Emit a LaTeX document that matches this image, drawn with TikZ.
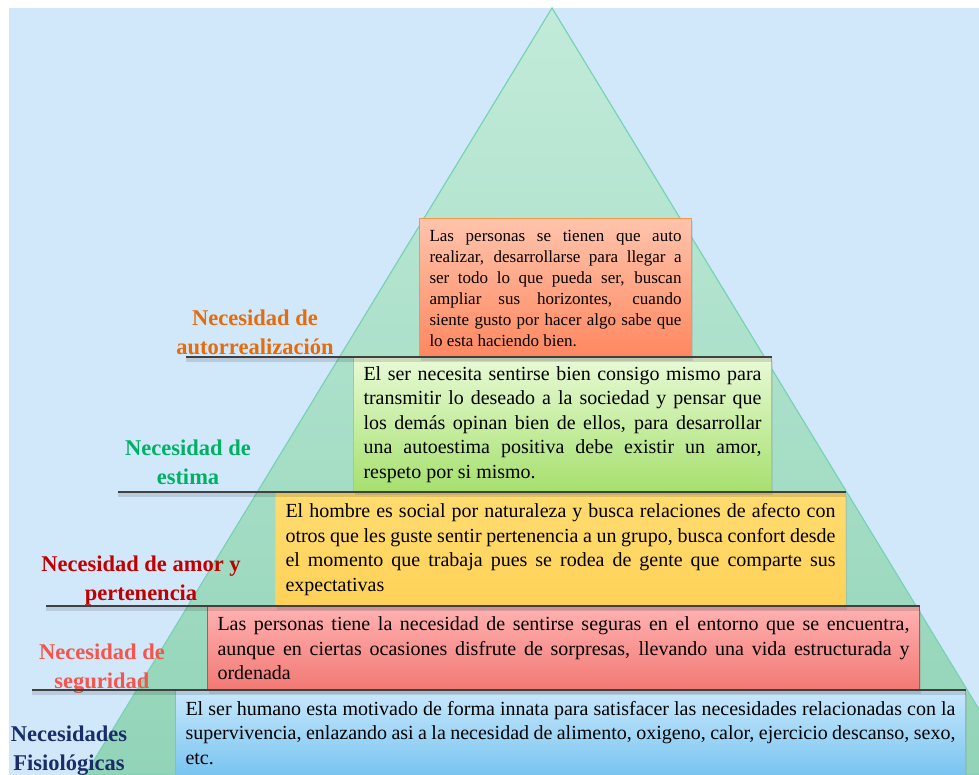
\documentclass[tikz,border=0pt]{standalone}
\usepackage{fontspec}
\setmainfont{Liberation Serif}
\usepackage{tikz}
\usetikzlibrary{positioning}
\usetikzlibrary{shadows}
\definecolor{bgblue}{RGB}{209,232,251}
\definecolor{pyrtop}{RGB}{194,235,217}
\definecolor{pyrbottom}{RGB}{146,212,184}
\definecolor{pyredge}{RGB}{122,210,182}
\definecolor{autorrcolor}{RGB}{228,108,10}
\definecolor{estimacolor}{RGB}{0,176,100}
\definecolor{amorcolor}{RGB}{192,0,0}
\definecolor{segcolor}{RGB}{245,85,75}
\definecolor{fisiocolor}{RGB}{25,45,105}
\definecolor{linegray}{RGB}{64,64,64}
\tikzset{pyramid/.style={top color=pyrtop,bottom color=pyrbottom,draw=pyredge,line width=1.2pt}}
\tikzset{needbox/.style={rectangle,anchor=north west,line width=1pt,inner xsep=10pt,inner ysep=0pt,align=justify,font=\fontsize{20}{24.5}\selectfont,drop shadow={opacity=0.2,shadow xshift=1pt,shadow yshift=-3pt}}}
\tikzset{autorrbox/.style={needbox,top color={rgb,255:red,255;green,196;blue,172},bottom color={rgb,255:red,255;green,135;blue,95},draw={rgb,255:red,247;green,150;blue,70},font=\fontsize{17}{21}\selectfont}}
\tikzset{estimabox/.style={needbox,top color={rgb,255:red,232;green,250;blue,214},bottom color={rgb,255:red,166;green,224;blue,110},draw={rgb,255:red,155;green,215;blue,100}}}
\tikzset{amorbox/.style={needbox,top color={rgb,255:red,255;green,220;blue,112},bottom color={rgb,255:red,255;green,210;blue,88},draw={rgb,255:red,220;green,225;blue,90}}}
\tikzset{segbox/.style={needbox,top color={rgb,255:red,255;green,178;blue,178},bottom color={rgb,255:red,242;green,120;blue,115},draw={rgb,255:red,222;green,70;blue,60}}}
\tikzset{fisiobox/.style={needbox,top color={rgb,255:red,200;green,232;blue,252},bottom color={rgb,255:red,120;green,196;blue,240},draw={rgb,255:red,110;green,195;blue,232}}}
\tikzset{needlabel/.style={align=center,font=\bfseries\fontsize{22.5}{29}\selectfont}}
\tikzset{levelline/.style={draw=linegray,line width=1.5pt,preaction={draw=black,opacity=0.12,line width=4pt,transform canvas={yshift=-3pt}}}}

\begin{document}
\begin{tikzpicture}[x=1pt,y=-1pt]
  \useasboundingbox (0,0) rectangle (979,775);
  % Background
  \fill[bgblue] (9,8) rectangle (979,775);
  \begin{scope}
    \clip (9,8) rectangle (979,775);
    % Pyramid
    \coordinate (apex) at (552,8);
    \coordinate (baseL) at (85,775);
    \coordinate (baseR) at (1019,775);
    \draw[pyramid] (apex) -- (baseL) -- (baseR) -- cycle;

    % Boxes, from the base up
    \node[fisiobox,text width=770pt,minimum height=85pt] (fisio) at (175,690)
      {El ser humano esta motivado de forma innata para satisfacer las necesidades relacionadas con la\linebreak
       supervivencia, enlazando asi a la necesidad de alimento, oxigeno, calor, ejercicio descanso, sexo,\linebreak
       etc.};
    \node[segbox,text width=692pt,minimum height=84pt] (seg) at (207,606)
      {Las personas tiene la necesidad de sentirse seguras en el entorno que se encuentra,\linebreak
       aunque en ciertas ocasiones disfrute de sorpresas, llevando una vida estructurada y\linebreak
       ordenada};
    \node[amorbox,text width=550pt,minimum height=114pt] (amor) at (275,492)
      {El hombre es social por naturaleza y busca relaciones de afecto con\linebreak
       otros que les guste sentir pertenencia a un grupo, busca confort desde\linebreak
       el momento que trabaja pues se rodea de gente que comparte sus\linebreak
       expectativas};
    \node[estimabox,text width=398pt,minimum height=134pt] (estima) at (353,357)
      {El ser necesita sentirse bien consigo mismo para\linebreak
       transmitir lo deseado a la sociedad y pensar que\linebreak
       los demás opinan bien de ellos, para desarrollar\linebreak
       una autoestima positiva debe existir un amor,\linebreak
       respeto por si mismo.};
    \node[autorrbox,text width=252pt,minimum height=139pt] (autorr) at (419,218)
      {Las personas se tienen que auto\linebreak
       realizar, desarrollarse para llegar a\linebreak
       ser todo lo que pueda ser, buscan\linebreak
       ampliar sus horizontes, cuando\linebreak
       siente gusto por hacer algo sabe que\linebreak
       lo esta haciendo bien.};

    % Labels
    \node[needlabel,text=autorrcolor] (lautorr) at (255,332) {Necesidad de\\autorrealización};
    \node[needlabel,text=estimacolor] (lestima) at (188,462) {Necesidad de\\estima};
    \node[needlabel,text=amorcolor] (lamor) at (141,581) {Necesidad de amor y\\pertenencia};
    \node[needlabel,text=segcolor] (lseg) at (102,669) {Necesidad de\\seguridad};
    \node[needlabel,text=fisiocolor] (lfisio) at (69,751) {Necesidades\\Fisiológicas};

    % Level lines
    \coordinate (l1) at (186,357);
    \coordinate (l2) at (118,492);
    \coordinate (l3) at (46,606);
    \coordinate (l4) at (32,690);
    \draw[levelline] (l1) -- (estima.north east);
    \draw[levelline] (l2) -- (amor.north east);
    \draw[levelline] (l3) -- (seg.north east);
    \draw[levelline] (l4) -- (fisio.north east);
  \end{scope}
\end{tikzpicture}
\end{document}
